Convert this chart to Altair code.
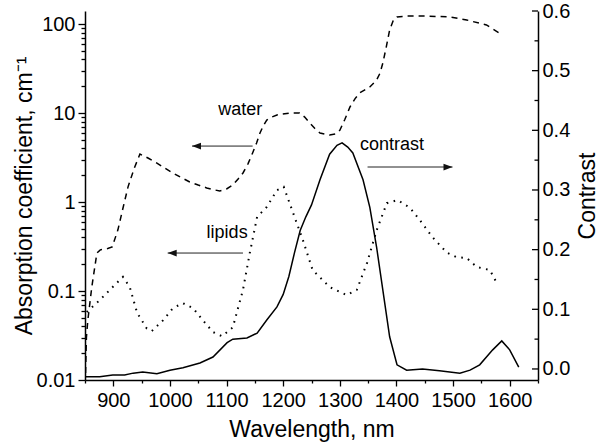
import json
import altair as alt
import pandas as pd

# ---------------- data ----------------
water_nm = [851, 852.5, 855, 862, 871, 877, 890, 898, 908, 917, 926, 937, 947, 962, 977, 991,
            1005, 1020, 1035, 1050, 1065, 1078, 1088, 1100, 1111, 1120, 1129, 1138, 1146, 1153,
            1159, 1165, 1171, 1180, 1189, 1212, 1229, 1238, 1247, 1256, 1265, 1282, 1292, 1300,
            1309, 1318, 1327, 1335, 1353, 1365, 1371, 1376, 1382, 1388, 1395, 1401, 1418, 1450,
            1494, 1524, 1559, 1582]
water_abs = [0.012, 0.03, 0.047, 0.111, 0.267, 0.29, 0.30, 0.312, 0.484, 0.85, 1.48, 2.4, 3.46,
             3.1, 2.74, 2.4, 2.12, 1.88, 1.68, 1.55, 1.44, 1.37, 1.33, 1.40, 1.55, 1.8, 2.12, 2.7,
             3.56, 4.6, 5.96, 7.2, 8.34, 9.0, 9.5, 10.0, 10.0, 9.0, 7.7, 6.7, 5.96, 5.66, 5.8, 6.4,
             8.5, 11.7, 14.5, 16.8, 19.6, 23.5, 28, 36.5, 55, 85.7, 112, 120, 123, 123, 120, 111,
             97.5, 79]

lipid_nm = [853, 876, 899, 917, 929, 942, 959, 968, 988, 1005, 1023, 1041, 1058, 1076, 1092,
            1111, 1129, 1141, 1154, 1171, 1189, 1201, 1217, 1235, 1252, 1282, 1312, 1330, 1348,
            1365, 1383, 1402, 1424, 1441, 1464, 1489, 1506, 1524, 1542, 1565, 1579]
lipid_abs = [0.058, 0.079, 0.111, 0.144, 0.111, 0.057, 0.038, 0.0355, 0.047, 0.064, 0.073,
             0.064, 0.047, 0.0346, 0.031, 0.039, 0.103, 0.267, 0.68, 0.88, 1.36, 1.48, 0.77,
             0.37, 0.172, 0.111, 0.090, 0.103, 0.206, 0.48, 0.97, 1.05, 0.86, 0.63, 0.40, 0.27,
             0.24, 0.235, 0.186, 0.172, 0.117]

contrast_nm = [850, 876, 899, 920, 935, 952, 977, 1000, 1023, 1053, 1076, 1101, 1111, 1136,
               1154, 1171, 1189, 1200, 1210, 1220, 1230, 1240, 1250, 1265, 1282, 1295, 1304,
               1314, 1323, 1341, 1353, 1365, 1376, 1388, 1401, 1418, 1446, 1476, 1512, 1530,
               1547, 1570, 1586, 1600, 1616]
contrast_val = [-0.013, -0.013, -0.010, -0.010, -0.007, -0.005, -0.008, -0.002, 0.002, 0.010,
                0.020, 0.044, 0.050, 0.052, 0.060, 0.082, 0.104, 0.125, 0.155, 0.195, 0.232,
                0.255, 0.275, 0.317, 0.360, 0.375, 0.379, 0.372, 0.362, 0.317, 0.271, 0.204,
                0.132, 0.054, 0.007, -0.002, 0.000, -0.003, -0.007, -0.002, 0.007, 0.032, 0.047,
                0.032, 0.003]

# axis ticks / labels
x_ticks = [850, 900, 950, 1000, 1050, 1100, 1150, 1200, 1250, 1300, 1350, 1400, 1450, 1500,
           1550, 1600, 1650]
left_ticks = [0.01, 0.02, 0.03, 0.04, 0.05, 0.06, 0.07, 0.08, 0.09,
              0.1, 0.2, 0.3, 0.4, 0.5, 0.6, 0.7, 0.8, 0.9,
              1, 2, 3, 4, 5, 6, 7, 8, 9,
              10, 20, 30, 40, 50, 60, 70, 80, 90, 100]
left_labels = ["0.01", "0.1", "1", "10", "100"]
right_major = [0.0, 0.1, 0.2, 0.3, 0.4, 0.5, 0.6]
right_minor = [0.05, 0.15, 0.25, 0.35, 0.45, 0.55]

# annotations
left_notes = pd.DataFrame({"nm": [1124, 1101], "v": [10.8, 0.449], "txt": ["water", "lipids"]})
left_arrows = pd.DataFrame({"x1": [1146, 1129], "x2": [1039, 996], "v": [4.25, 0.267]})
right_notes = pd.DataFrame({"nm": [1392], "v": [0.375], "txt": ["contrast"]})
right_arrows = pd.DataFrame({"x1": [1349], "x2": [1499], "v": [0.3385]})

# ---------------- chart ----------------
W, H = 453, 369
FONT = "Liberation Sans"
INK = "#000000"

water = pd.DataFrame({"nm": water_nm, "v": water_abs})
lipid = pd.DataFrame({"nm": lipid_nm, "v": lipid_abs})
contrast = pd.DataFrame({"nm": contrast_nm, "v": contrast_val})

xscale = alt.Scale(domain=[850, 1650], nice=False, zero=False)
ylscale = alt.Scale(type="log", domain=[0.01, 140], nice=False)
yrscale = alt.Scale(domain=[-0.0185, 0.6], nice=False, zero=False)

x_axis = alt.Axis(
    values=x_ticks,
    labelExpr="datum.value % 100 == 0 ? format(datum.value, 'd') : ''",
    tickSize={"condition": {"test": "datum.value % 100 == 0", "value": 6}, "value": 3},
    tickColor=INK, tickWidth=1.3, domainColor=INK, domainWidth=1.5,
    labelFont=FONT, labelFontSize=20, labelColor=INK, labelPadding=4,
    labelFlush=False, labelOverlap=False, grid=False,
    title="Wavelength, nm", titleFont=FONT, titleFontSize=23, titleFontWeight="normal",
    titleColor=INK, titlePadding=8,
)

lab_list = json.dumps(left_labels).replace('"', "'")
is_major = f"indexof({lab_list}, format(datum.value, '~g')) >= 0"
yl_axis = alt.Axis(
    values=left_ticks, orient="left",
    labelExpr=f"{is_major} ? format(datum.value, '~g') : ''",
    tickSize={"condition": {"test": is_major, "value": 7}, "value": 4},
    tickColor=INK, tickWidth=1.3, domainColor=INK, domainWidth=1.5,
    labelFont=FONT, labelFontSize=20, labelColor=INK, labelPadding=3,
    labelOverlap=False, labelFlush=False, grid=False,
    title="Absorption coefficient, cm\u207b\u00b9", titleFont=FONT, titleFontSize=23,
    titleFontWeight="normal", titleColor=INK, titlePadding=0,
)

yr_axis = alt.Axis(
    values=right_major, orient="right", format=".1f",
    tickSize=0, domainColor=INK, domainWidth=1.5,
    labelFont=FONT, labelFontSize=20, labelColor=INK, labelPadding=4,
    labelOverlap=False, labelFlush=False, grid=False,
    title="Contrast", titleFont=FONT, titleFontSize=23, titleFontWeight="normal",
    titleColor=INK, titlePadding=30, titleAngle=270,
)

X = alt.X("nm:Q", scale=xscale, axis=x_axis)
YL = alt.Y("v:Q", scale=ylscale, axis=yl_axis)
YR = alt.Y("v:Q", scale=yrscale, axis=yr_axis)

water_line = alt.Chart(water).mark_line(
    color=INK, strokeWidth=1.5, strokeDash=[6, 5], clip=True
).encode(x=X, y=YL)

lipid_line = alt.Chart(lipid).mark_line(
    color=INK, strokeWidth=2, strokeDash=[1.6, 5.5], clip=True
).encode(x=X, y=YL)

left_text = alt.Chart(left_notes).mark_text(
    font=FONT, fontSize=18, color=INK, align="center", baseline="middle"
).encode(x=X, y=YL, text="txt:N")

left_arrow_line = alt.Chart(left_arrows).mark_rule(color="#222222", strokeWidth=1).encode(
    x=alt.X("x1:Q", scale=xscale, axis=x_axis), x2="x2:Q",
    y=alt.Y("v:Q", scale=ylscale, axis=yl_axis))
left_arrow_head = alt.Chart(left_arrows).mark_point(
    shape="M 0 0 L 2 -0.75 L 2 0.75 Z", size=81, filled=True, color="#111111", opacity=1
).encode(x=alt.X("x2:Q", scale=xscale, axis=x_axis),
         y=alt.Y("v:Q", scale=ylscale, axis=yl_axis))

contrast_line = alt.Chart(contrast).mark_line(
    color=INK, strokeWidth=1.5, clip=True
).encode(x=X, y=YR)

right_text = alt.Chart(right_notes).mark_text(
    font=FONT, fontSize=18, color=INK, align="center", baseline="middle"
).encode(x=X, y=YR, text="txt:N")

right_arrow_line = alt.Chart(right_arrows).mark_rule(color="#222222", strokeWidth=1).encode(
    x=alt.X("x1:Q", scale=xscale, axis=x_axis), x2="x2:Q",
    y=alt.Y("v:Q", scale=yrscale, axis=yr_axis))
right_arrow_head = alt.Chart(right_arrows).mark_point(
    shape="M 0 0 L -2 -0.75 L -2 0.75 Z", size=81, filled=True, color="#111111", opacity=1
).encode(x=alt.X("x2:Q", scale=xscale, axis=x_axis),
         y=alt.Y("v:Q", scale=yrscale, axis=yr_axis))

rmaj = pd.DataFrame({"v": right_major})
rmin = pd.DataFrame({"v": right_minor})
right_major_ticks = alt.Chart(rmaj).mark_rule(color=INK, strokeWidth=1.3).encode(
    x=alt.value(W - 6), x2=alt.value(W), y=YR)
right_minor_ticks = alt.Chart(rmin).mark_rule(color=INK, strokeWidth=1.3).encode(
    x=alt.value(W - 3.5), x2=alt.value(W), y=YR)

left_layer = alt.layer(water_line, lipid_line, left_text, left_arrow_line, left_arrow_head)
right_layer = alt.layer(contrast_line, right_text, right_arrow_line, right_arrow_head,
                        right_major_ticks, right_minor_ticks)

chart = alt.layer(left_layer, right_layer).resolve_scale(y="independent").properties(
    width=W, height=H,
    autosize=alt.AutoSizeParams(type="none"),
    padding={"left": 85, "top": 11, "right": 599 - 85 - W, "bottom": 446 - 11 - H},
    background="white",
).configure_view(stroke=None)

chart.save("out.html", embed_options={"renderer": "svg", "actions": False})
